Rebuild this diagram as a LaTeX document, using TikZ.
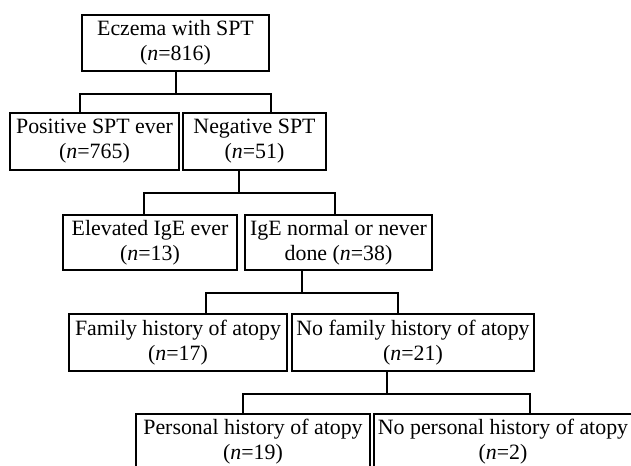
\documentclass[tikz,border=0pt]{standalone}
\usepackage{fontspec}
\setmainfont{Liberation Serif}
\newcommand\mkbox[6]{%
  \node[bx, minimum width={(#4-#2)*0.75pt}, minimum height={(#5-#3)*0.75pt}]
    (#1) at ({(#2+#4)/2},{(#3+#5)/2}) {#6};}
\begin{document}
\begin{tikzpicture}[x=0.75pt,y=-0.75pt,
  bx/.style={draw=black, line width=0.9pt, inner sep=0pt, align=center,
    font=\fontsize{16.4pt}{18.8pt}\selectfont},
  conn/.style={draw=black, line width=0.9pt}]
\useasboundingbox (0,0) rectangle (631,466);
\clip (0,0) rectangle (631,466);
\fill[white] (0,0) rectangle (631,466);
% boxes
\mkbox{ecz}{82}{15}{269}{71}{Eczema with SPT\\(\textit{n}=816)}
\mkbox{pos}{10}{113}{179}{170}{Positive SPT ever\\(\textit{n}=765)}
\mkbox{neg}{183}{113}{326}{170}{Negative SPT\\(\textit{n}=51)}
\mkbox{elev}{63}{215}{237}{270}{Elevated IgE ever\\(\textit{n}=13)}
\mkbox{igen}{245}{215}{432}{270}{IgE normal or never\\done (\textit{n}=38)}
\mkbox{fam}{69}{314}{287}{371}{Family history of atopy\\(\textit{n}=17)}
\mkbox{nofam}{292}{314}{534}{371}{No family history of atopy\\(\textit{n}=21)}
\mkbox{pers}{136}{414}{370}{470}{Personal history of atopy\\(\textit{n}=19)}
\mkbox{nopers}{374}{414}{632}{470}{No personal history of atopy\\(\textit{n}=2)}
% junction coordinates
\coordinate (p1) at (176,94);
\coordinate (l1) at (80,94);
\coordinate (r1) at (271,94);
\coordinate (p2) at (239,193);
\coordinate (l2) at (144,193);
\coordinate (r2) at (335,193);
\coordinate (p3) at (302,293);
\coordinate (l3) at (206,293);
\coordinate (r3) at (398,293);
\coordinate (p4) at (387,394);
\coordinate (l4) at (243,394);
\coordinate (r4) at (530,394);
% connectors
\draw[conn] (p1 |- ecz.south) -- (p1);
\draw[conn] (l1 |- pos.north) -- (l1) -- (r1) -- (r1 |- neg.north);
\draw[conn] (p2 |- neg.south) -- (p2);
\draw[conn] (l2 |- elev.north) -- (l2) -- (r2) -- (r2 |- igen.north);
\draw[conn] (p3 |- igen.south) -- (p3);
\draw[conn] (l3 |- fam.north) -- (l3) -- (r3) -- (r3 |- nofam.north);
\draw[conn] (p4 |- nofam.south) -- (p4);
\draw[conn] (l4 |- pers.north) -- (l4) -- (r4) -- (r4 |- nopers.north);
\end{tikzpicture}
\end{document}
